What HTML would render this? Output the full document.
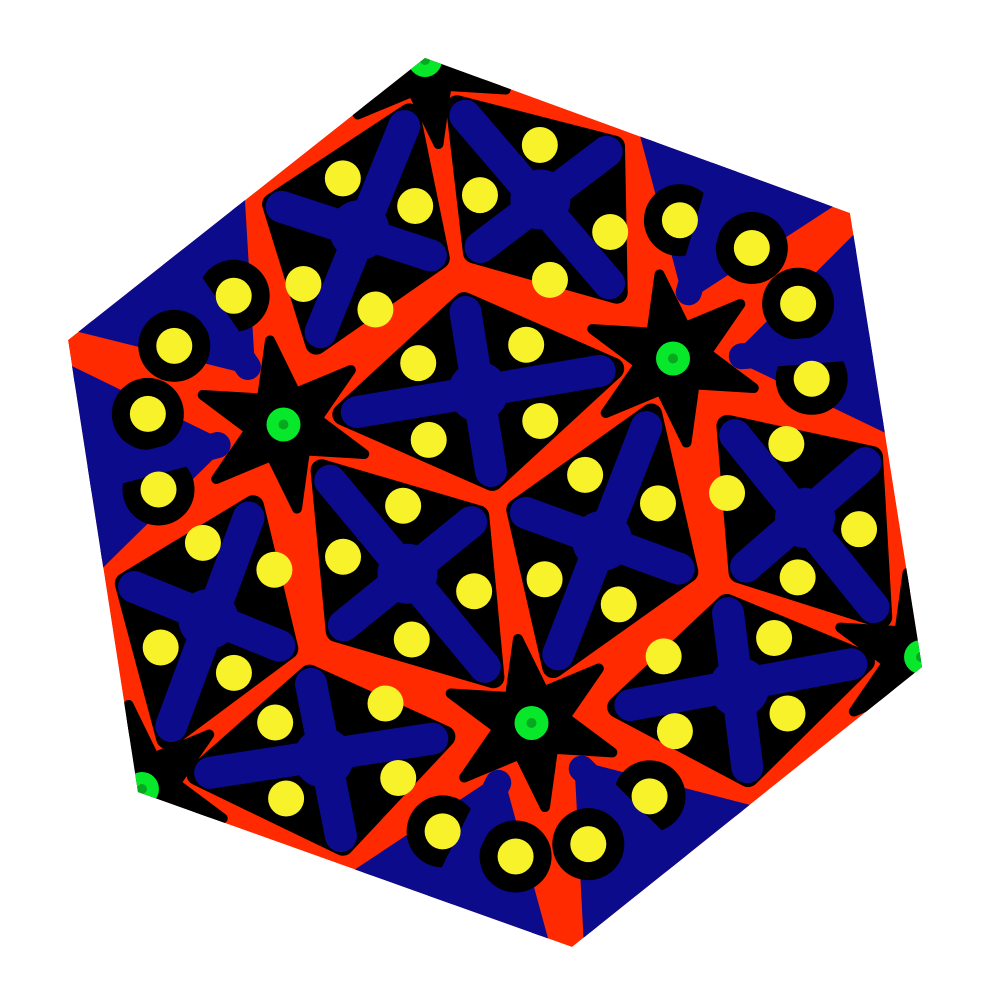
<!DOCTYPE html>
<html><head><meta charset="utf-8"><style>html,body{margin:0;background:#fff}svg{display:block}</style></head>
<body>
<svg id="art" width="1000" height="1000" viewBox="0 0 1000 1000" xmlns="http://www.w3.org/2000/svg">
<defs><clipPath id="hexclip"><polygon points="425,58 850,213 922,667 572,947 138,792 68,340"/></clipPath></defs>
<rect width="1000" height="1000" fill="#fff"/>
<g id="g" clip-path="url(#hexclip)">
<polygon points="425,58 850,213 922,667 572,947 138,792 68,340" fill="#ff2a00"/>
</g>
</svg>
<script>
// ideal-coordinate shapes (regular hexagon, radius 1), mapped affinely to screen
const innerRhombus=[[0,-0.45],[0.3,-0.25],[0,-0.05],[-0.3,-0.25]];
const innerYellows=[[0.12,-0.335],[0.124,-0.162]];
const outerSquare=[[0.053,-0.886],[0.379,-0.739],[0.334,-0.416],[0.039,-0.558]];
const outerYellows=[[0.219,-0.77],[0.072,-0.682],[0.341,-0.552],[0.194,-0.469]];
const edgeTri=[[0.49,-0.39],[0.44,-0.9],[0.85,-0.55]];
const edgeYellows=[[0.496,-0.552],[0.642,-0.464]];
const greens=[[0.433,-0.25],[0,-1]];
const A=[449.8,-76.2],B=[71,442],C=[496,502];
const NS='http://www.w3.org/2000/svg';
const g=document.getElementById('g');
function S(p){return [C[0]+p[0]*A[0]+p[1]*B[0],C[1]+p[0]*A[1]+p[1]*B[1]];}
function T(p,r,m){let x=m?-p[0]:p[0],y=p[1];const a=r*2*Math.PI/3;return [x*Math.cos(a)-y*Math.sin(a),x*Math.sin(a)+y*Math.cos(a)];}
function mk(tag,attrs){const e=document.createElementNS(NS,tag);for(const k in attrs)e.setAttribute(k,attrs[k]);g.appendChild(e);return e;}
function pts(arr){return arr.map(p=>S(p).map(v=>v.toFixed(1)).join(',')).join(' ');}
const ops=[];for(let r=0;r<3;r++)for(let m=0;m<2;m++)ops.push([r,m]);
ops.forEach(([r,m])=>{if(m)return;greens.forEach(c=>{const cc=T(c,r,0);const st=[];for(let k=0;k<12;k++){const ang=-Math.PI/2+k*Math.PI/6;const rad=k%2?0.075:0.19;st.push([cc[0]+rad*Math.cos(ang),cc[1]+rad*Math.sin(ang)]);}
const e=mk('polygon',{points:pts(st),fill:'#000','stroke':'#000','stroke-width':10,'stroke-linejoin':'round'});

});});
function square(poly){
const e=mk('polygon',{points:pts(poly),fill:'#000',stroke:'#000','stroke-width':22,'stroke-linejoin':'round'});


const sp=poly.map(S);
const cx=(sp[0][0]+sp[1][0]+sp[2][0]+sp[3][0])/4,cy=(sp[0][1]+sp[1][1]+sp[2][1]+sp[3][1])/4;
for(let i=0;i<2;i++){const a=sp[i],b=sp[i+2];const k=0.9;
const ax=cx+(a[0]-cx)*k,ay=cy+(a[1]-cy)*k,bx=cx+(b[0]-cx)*k,by=cy+(b[1]-cy)*k;
const l=mk('line',{x1:ax,y1:ay,x2:bx,y2:by,stroke:'#0b0b8c','stroke-width':32,'stroke-linecap':'round'});

}
const c=mk('circle',{cx:cx,cy:cy,r:30,fill:'#0b0b8c'});


}
for(let r=0;r<3;r++){square(innerRhombus.map(p=>T(p,r,0)));}
ops.forEach(([r,m])=>{square(outerSquare.map(p=>T(p,r,m)));});
ops.forEach(([r,m])=>{const tri=edgeTri.map(p=>T(p,r,m));
const e=mk('polygon',{points:pts(tri),fill:'#0b0b8c',stroke:'#0b0b8c','stroke-width':14,'stroke-linejoin':'round'});


edgeYellows.forEach(y=>{const s=S(T(y,r,m));
const h=mk('circle',{cx:s[0],cy:s[1],r:36,fill:'#000'});

});
const ap=S(tri[0]),b1=S(tri[1]),b2=S(tri[2]);
const sl=mk('line',{x1:ap[0],y1:ap[1],x2:(b1[0]+b2[0])/2,y2:(b1[1]+b2[1])/2,stroke:'#0b0b8c','stroke-width':26,'stroke-linecap':'round'});

});
function yellow(p){const s=S(p);
const c=mk('circle',{cx:s[0],cy:s[1],r:18,fill:'#f7f22a'});

}
ops.forEach(([r,m])=>{innerYellows.forEach(y=>yellow(T(y,r,m)));outerYellows.forEach(y=>yellow(T(y,r,m)));edgeYellows.forEach(y=>yellow(T(y,r,m)));});
for(let r=0;r<3;r++){greens.forEach(c=>{const s=S(T(c,r,0));
const e=mk('circle',{cx:s[0],cy:s[1],r:17,fill:'#08e82a'});


const d=mk('circle',{cx:s[0],cy:s[1],r:5,fill:'#06a820'});

});}
</script>
</body></html>
